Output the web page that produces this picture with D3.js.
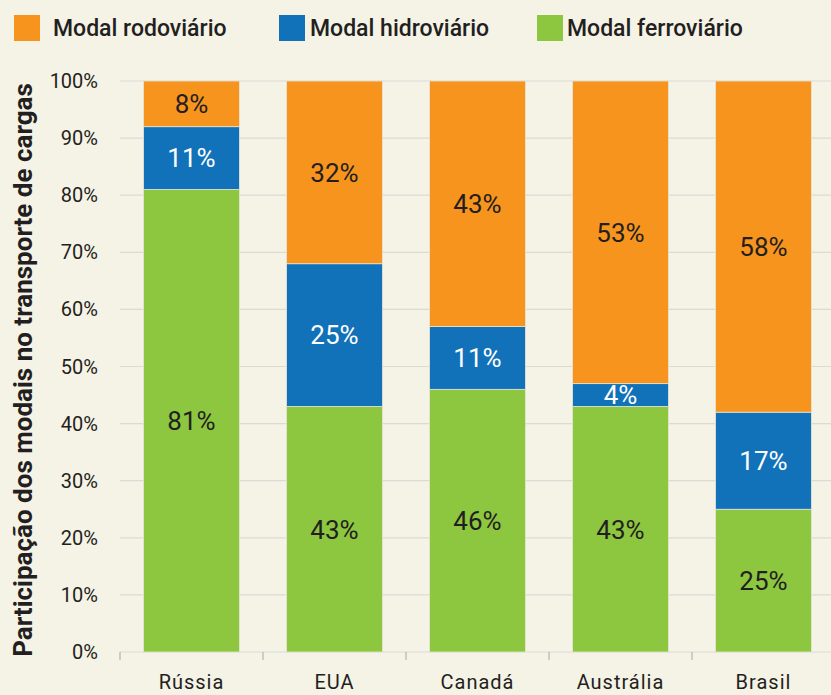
<!DOCTYPE html>
<html>
<head>
<meta charset="utf-8">
<script src="https://cdn.jsdelivr.net/npm/d3@7"></script>
<style>
  body { margin: 0; background: #f5f2e6; }
  text { font-family: "Roboto", "DejaVu Sans", sans-serif; fill: #231f20; }
</style>
</head>
<body>
<div id="chart"></div>
<script>
var countries = ["Rússia", "EUA", "Canadá", "Austrália", "Brasil"];
var ferroviario = [81, 43, 46, 43, 25];
var hidroviario = [11, 25, 11, 4, 17];
var rodoviario = [8, 32, 43, 53, 58];
var seriesNames = ["Modal ferroviário", "Modal hidroviário", "Modal rodoviário"];
var legendOrder = ["Modal rodoviário", "Modal hidroviário", "Modal ferroviário"];
var yTicks = [0, 10, 20, 30, 40, 50, 60, 70, 80, 90, 100];

var svgWidth = 831;
var svgHeight = 695;
var margin = { top: 81, right: -4, bottom: 43, left: 120 };
var width = svgWidth - margin.left - margin.right;
var height = svgHeight - margin.top - margin.bottom;

var colors = {
  "Modal ferroviário": "#8dc63f",
  "Modal hidroviário": "#1172b9",
  "Modal rodoviário": "#f7941d"
};

var rows = countries.map(function(c, i) {
  return {
    country: c,
    "Modal ferroviário": ferroviario[i],
    "Modal hidroviário": hidroviario[i],
    "Modal rodoviário": rodoviario[i]
  };
});

var stacked = d3.stack().keys(seriesNames)(rows);

var svg = d3.select("#chart")
  .append("svg")
  .attr("width", svgWidth)
  .attr("height", svgHeight)
  .style("background", "#f5f2e6");

var chartGroup = svg.append("g")
  .attr("transform", `translate(${margin.left}, ${margin.top})`);

var x = d3.scaleBand()
  .domain(countries)
  .range([0, width])
  .paddingInner(0.33)
  .paddingOuter(0.165);

var y = d3.scaleLinear()
  .domain([0, 100])
  .range([height, 0]);

// gridlines
chartGroup.append("g")
  .selectAll("line")
  .data(yTicks)
  .enter()
  .append("line")
  .attr("x1", 0)
  .attr("x2", svgWidth - margin.left)
  .attr("y1", d => y(d))
  .attr("y2", d => y(d))
  .attr("stroke", "#dcdad5")
  .attr("stroke-width", 1.2);

// y tick labels
chartGroup.append("g")
  .selectAll("text")
  .data(yTicks)
  .enter()
  .append("text")
  .attr("x", -22)
  .attr("y", d => y(d))
  .attr("dy", "0.35em")
  .attr("text-anchor", "end")
  .attr("font-size", "20px")
  .text(d => d + "%");

// x axis ticks at band boundaries
var step = x.step();
var boundaries = d3.range(countries.length + 1).map(i => i * step);
chartGroup.append("g")
  .selectAll("line")
  .data(boundaries)
  .enter()
  .append("line")
  .attr("x1", d => d)
  .attr("x2", d => d)
  .attr("y1", height)
  .attr("y2", height + 8)
  .attr("stroke", "#b5b3ae")
  .attr("stroke-width", 1.2);

// bars
var layers = chartGroup.selectAll(".layer")
  .data(stacked)
  .enter()
  .append("g")
  .attr("class", "layer")
  .attr("fill", d => colors[d.key]);

layers.selectAll("rect")
  .data(d => d)
  .enter()
  .append("rect")
  .attr("x", d => x(d.data.country))
  .attr("y", d => y(d[1]))
  .attr("width", x.bandwidth())
  .attr("height", d => y(d[0]) - y(d[1]))
  .attr("stroke", "#e6e4d6")
  .attr("stroke-width", 0.8);

// value labels
layers.selectAll("text")
  .data(d => d.map(v => ({ v: v, key: d.key })))
  .enter()
  .append("text")
  .attr("x", d => x(d.v.data.country) + x.bandwidth() / 2)
  .attr("y", d => (y(d.v[0]) + y(d.v[1])) / 2)
  .attr("dy", "0.36em")
  .attr("text-anchor", "middle")
  .attr("font-size", "26px")
  .style("fill", d => d.key === "Modal hidroviário" ? "#ffffff" : "#231f20")
  .text(d => (d.v[1] - d.v[0]) + "%");

// category labels
chartGroup.append("g")
  .selectAll("text")
  .data(countries)
  .enter()
  .append("text")
  .attr("x", d => x(d) + x.bandwidth() / 2)
  .attr("y", height + 37)
  .attr("text-anchor", "middle")
  .attr("font-size", "20px")
  .attr("letter-spacing", "1px")
  .text(d => d);

// y axis title
svg.append("text")
  .attr("transform", `translate(32, 370) rotate(-90)`)
  .attr("text-anchor", "middle")
  .attr("font-size", "26px")
  .attr("font-weight", "bold")
  .text("Participação dos modais no transporte de cargas");

// legend
var legendX = [14, 279, 537];
var legend = svg.append("g")
  .selectAll("g")
  .data(legendOrder)
  .enter()
  .append("g")
  .attr("transform", (d, i) => `translate(${legendX[i]}, 15)`);

legend.append("rect")
  .attr("width", 26)
  .attr("height", 26)
  .attr("fill", d => colors[d]);

legend.append("text")
  .attr("x", (d, i) => i === 0 ? 39 : (i === 1 ? 31 : 30))
  .attr("y", 13)
  .attr("dy", "0.36em")
  .attr("font-size", "23px")
  .attr("font-weight", 500)
  .text(d => d);
</script>
</body>
</html>
